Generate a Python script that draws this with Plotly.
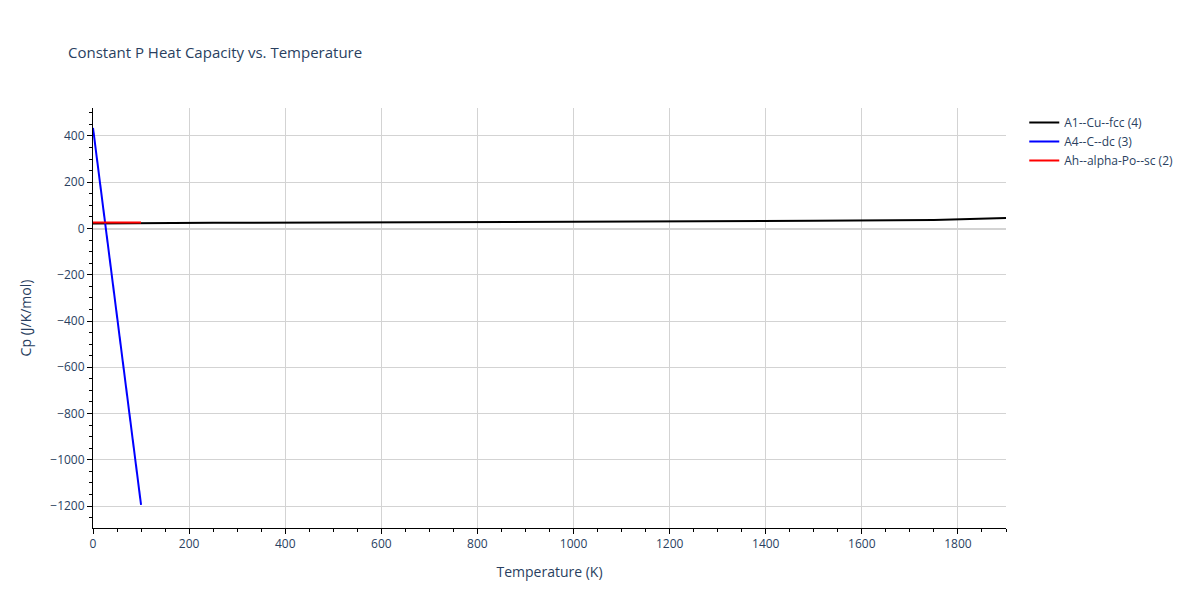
import plotly.graph_objects as go

cu_t = [0, 100, 250, 500, 750, 1000, 1250, 1500, 1750, 1900]
cu_cp = [22, 24, 25, 26, 27, 28, 29, 33, 37, 45]

c_t = [0, 100]
c_cp = [435, -1195]

po_t = [0, 25, 50, 75, 100]
po_cp = [26, 26, 26, 26, 26]

fig = go.Figure()
fig.add_trace(go.Scatter(x=cu_t, y=cu_cp, mode="lines", name="A1--Cu--fcc (4)",
                         line=dict(color="black", width=2)))
fig.add_trace(go.Scatter(x=c_t, y=c_cp, mode="lines", name="A4--C--dc (3)",
                         line=dict(color="blue", width=2)))
fig.add_trace(go.Scatter(x=po_t, y=po_cp, mode="lines", name="Ah--alpha-Po--sc (2)",
                         line=dict(color="red", width=2)))

axis_style = dict(showline=True, linecolor="black", ticks="outside", tickcolor="black",
                  gridcolor="lightgrey", zeroline=True, zerolinecolor="lightgrey",
                  minor=dict(ticks="outside", tickcolor="black", ticklen=3))

fig.update_layout(
    width=1200, height=600,
    title=dict(text="Constant P Heat Capacity vs. Temperature", x=0.05, font=dict(size=15)),
    plot_bgcolor="white", paper_bgcolor="white",
    margin=dict(l=85, r=202, t=100, b=80),
    xaxis=dict(title="Temperature (K)", range=[0, 1900], dtick=200, **axis_style),
    yaxis=dict(title="Cp (J/K/mol)", range=[-1295, 521], dtick=200, **axis_style),
)
fig.write_html("out.html")
